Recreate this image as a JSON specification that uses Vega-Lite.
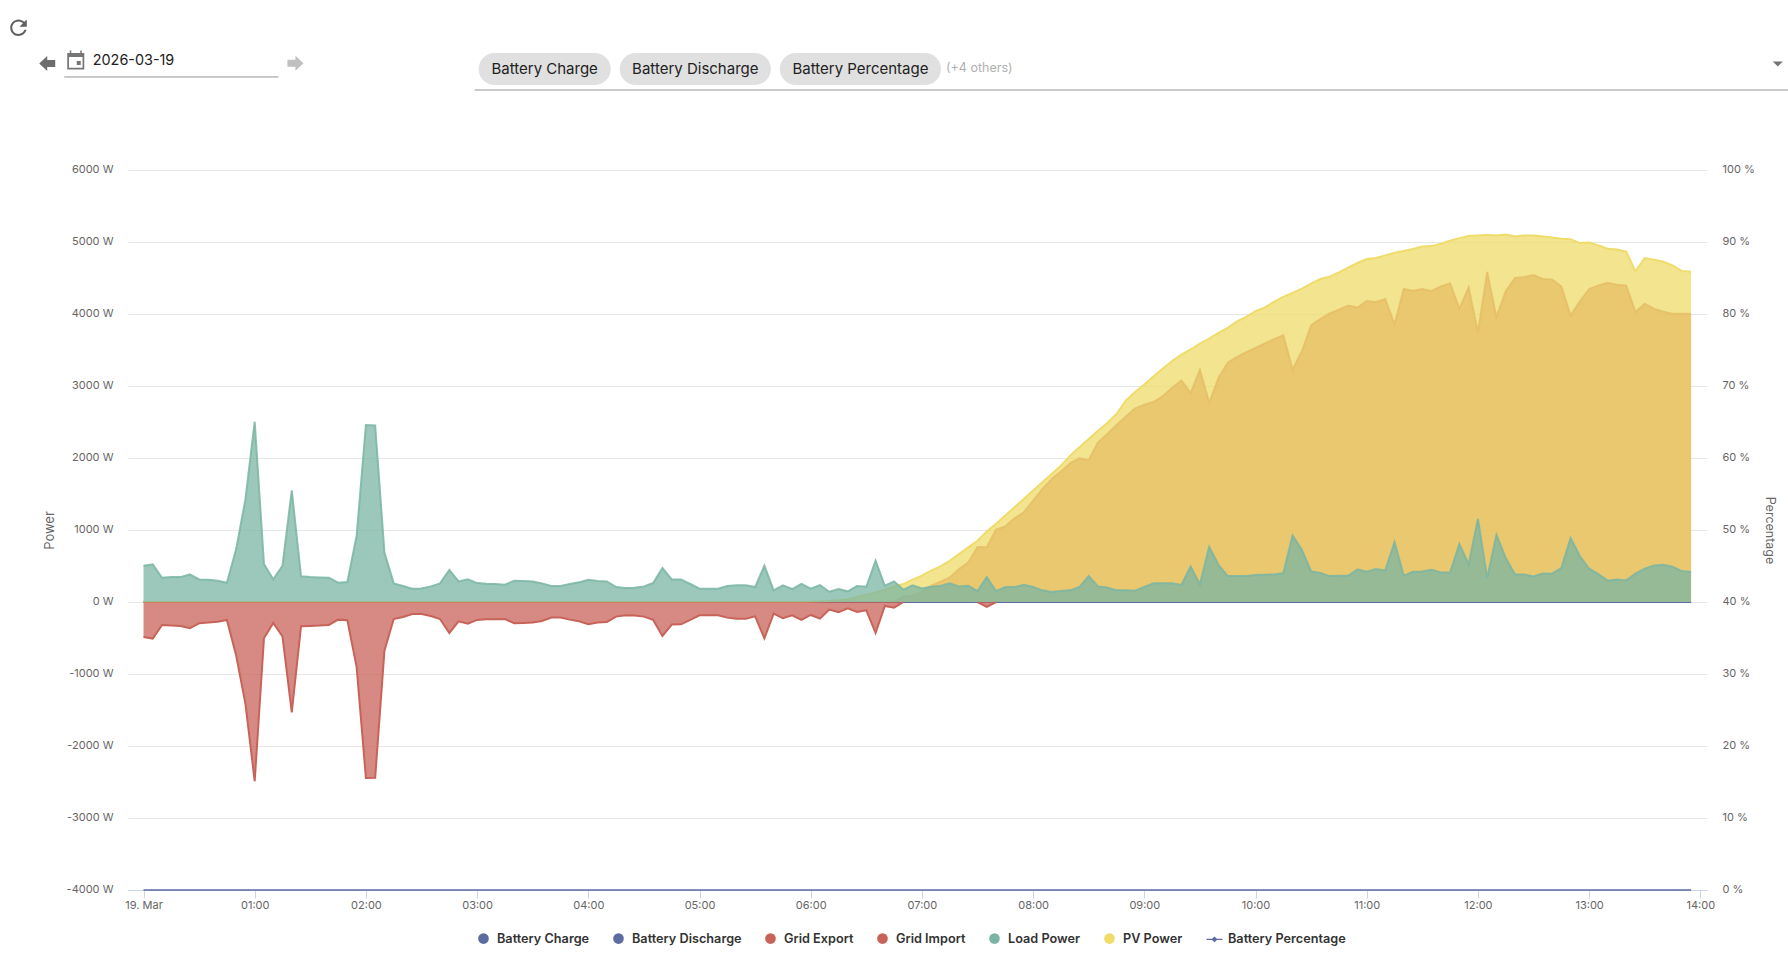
{
  "$schema": "https://vega.github.io/schema/vega-lite/v6.json",
  "width": 1579,
  "height": 720,
  "autosize": "none",
  "padding": {"left": 128, "top": 170, "right": 81, "bottom": 65},
  "background": "#ffffff",
  "data": {
    "values": [
      {"t":"2026-03-19T00:00","charge":0,"discharge":0,"export":null,"import":-485,"load":504,"pv":0,"pct":0},
      {"t":"2026-03-19T00:05","charge":0,"discharge":0,"export":null,"import":-508,"load":522,"pv":0,"pct":0},
      {"t":"2026-03-19T00:10","charge":0,"discharge":0,"export":null,"import":-319,"load":337,"pv":0,"pct":0},
      {"t":"2026-03-19T00:15","charge":0,"discharge":0,"export":null,"import":-328,"load":346,"pv":0,"pct":0},
      {"t":"2026-03-19T00:20","charge":0,"discharge":0,"export":null,"import":-333,"load":346,"pv":0,"pct":0},
      {"t":"2026-03-19T00:25","charge":0,"discharge":0,"export":null,"import":-365,"load":383,"pv":0,"pct":0},
      {"t":"2026-03-19T00:30","charge":0,"discharge":0,"export":null,"import":-296,"load":314,"pv":0,"pct":0},
      {"t":"2026-03-19T00:35","charge":0,"discharge":0,"export":null,"import":-286,"load":310,"pv":0,"pct":0},
      {"t":"2026-03-19T00:40","charge":0,"discharge":0,"export":null,"import":-273,"load":296,"pv":0,"pct":0},
      {"t":"2026-03-19T00:45","charge":0,"discharge":0,"export":null,"import":-249,"load":268,"pv":0,"pct":0},
      {"t":"2026-03-19T00:50","charge":0,"discharge":0,"export":null,"import":-744,"load":735,"pv":0,"pct":0},
      {"t":"2026-03-19T00:55","charge":0,"discharge":0,"export":null,"import":-1414,"load":1428,"pv":0,"pct":0},
      {"t":"2026-03-19T01:00","charge":0,"discharge":0,"export":null,"import":-2490,"load":2504,"pv":0,"pct":0},
      {"t":"2026-03-19T01:05","charge":0,"discharge":0,"export":null,"import":-504,"load":527,"pv":0,"pct":0},
      {"t":"2026-03-19T01:10","charge":0,"discharge":0,"export":null,"import":-291,"load":314,"pv":0,"pct":0},
      {"t":"2026-03-19T01:15","charge":0,"discharge":0,"export":null,"import":-480,"load":504,"pv":0,"pct":0},
      {"t":"2026-03-19T01:20","charge":0,"discharge":0,"export":null,"import":-1534,"load":1552,"pv":0,"pct":0},
      {"t":"2026-03-19T01:25","charge":0,"discharge":0,"export":null,"import":-337,"load":356,"pv":0,"pct":0},
      {"t":"2026-03-19T01:30","charge":0,"discharge":0,"export":null,"import":-333,"load":346,"pv":0,"pct":0},
      {"t":"2026-03-19T01:35","charge":0,"discharge":0,"export":null,"import":-328,"load":342,"pv":0,"pct":0},
      {"t":"2026-03-19T01:40","charge":0,"discharge":0,"export":null,"import":-319,"load":337,"pv":0,"pct":0},
      {"t":"2026-03-19T01:45","charge":0,"discharge":0,"export":null,"import":-245,"load":268,"pv":0,"pct":0},
      {"t":"2026-03-19T01:50","charge":0,"discharge":0,"export":null,"import":-254,"load":277,"pv":0,"pct":0},
      {"t":"2026-03-19T01:55","charge":0,"discharge":0,"export":null,"import":-905,"load":920,"pv":0,"pct":0},
      {"t":"2026-03-19T02:00","charge":0,"discharge":0,"export":null,"import":-2444,"load":2458,"pv":0,"pct":0},
      {"t":"2026-03-19T02:05","charge":0,"discharge":0,"export":null,"import":-2440,"load":2453,"pv":0,"pct":0},
      {"t":"2026-03-19T02:10","charge":0,"discharge":0,"export":null,"import":-675,"load":688,"pv":0,"pct":0},
      {"t":"2026-03-19T02:15","charge":0,"discharge":0,"export":null,"import":-236,"load":259,"pv":0,"pct":0},
      {"t":"2026-03-19T02:20","charge":0,"discharge":0,"export":null,"import":-208,"load":222,"pv":0,"pct":0},
      {"t":"2026-03-19T02:25","charge":0,"discharge":0,"export":null,"import":-166,"load":185,"pv":0,"pct":0},
      {"t":"2026-03-19T02:30","charge":0,"discharge":0,"export":null,"import":-166,"load":189,"pv":0,"pct":0},
      {"t":"2026-03-19T02:35","charge":0,"discharge":0,"export":null,"import":-194,"load":217,"pv":0,"pct":0},
      {"t":"2026-03-19T02:40","charge":0,"discharge":0,"export":null,"import":-236,"load":259,"pv":0,"pct":0},
      {"t":"2026-03-19T02:45","charge":0,"discharge":0,"export":null,"import":-430,"load":444,"pv":0,"pct":0},
      {"t":"2026-03-19T02:50","charge":0,"discharge":0,"export":null,"import":-268,"load":286,"pv":0,"pct":0},
      {"t":"2026-03-19T02:55","charge":0,"discharge":0,"export":null,"import":-300,"load":314,"pv":0,"pct":0},
      {"t":"2026-03-19T03:00","charge":0,"discharge":0,"export":null,"import":-249,"load":263,"pv":0,"pct":0},
      {"t":"2026-03-19T03:05","charge":0,"discharge":0,"export":null,"import":-240,"load":254,"pv":0,"pct":0},
      {"t":"2026-03-19T03:10","charge":0,"discharge":0,"export":null,"import":-238,"load":250,"pv":0,"pct":0},
      {"t":"2026-03-19T03:15","charge":0,"discharge":0,"export":null,"import":-236,"load":240,"pv":0,"pct":0},
      {"t":"2026-03-19T03:20","charge":0,"discharge":0,"export":null,"import":-296,"load":296,"pv":0,"pct":0},
      {"t":"2026-03-19T03:25","charge":0,"discharge":0,"export":null,"import":-291,"load":291,"pv":0,"pct":0},
      {"t":"2026-03-19T03:30","charge":0,"discharge":0,"export":null,"import":-286,"load":286,"pv":0,"pct":0},
      {"t":"2026-03-19T03:35","charge":0,"discharge":0,"export":null,"import":-263,"load":259,"pv":0,"pct":0},
      {"t":"2026-03-19T03:40","charge":0,"discharge":0,"export":null,"import":-217,"load":222,"pv":0,"pct":0},
      {"t":"2026-03-19T03:45","charge":0,"discharge":0,"export":null,"import":-217,"load":222,"pv":0,"pct":0},
      {"t":"2026-03-19T03:50","charge":0,"discharge":0,"export":null,"import":-245,"load":250,"pv":0,"pct":0},
      {"t":"2026-03-19T03:55","charge":0,"discharge":0,"export":null,"import":-268,"load":273,"pv":0,"pct":0},
      {"t":"2026-03-19T04:00","charge":0,"discharge":0,"export":null,"import":-310,"load":310,"pv":0,"pct":0},
      {"t":"2026-03-19T04:05","charge":0,"discharge":0,"export":null,"import":-286,"load":291,"pv":0,"pct":0},
      {"t":"2026-03-19T04:10","charge":0,"discharge":0,"export":null,"import":-277,"load":286,"pv":0,"pct":0},
      {"t":"2026-03-19T04:15","charge":0,"discharge":0,"export":null,"import":-203,"load":208,"pv":0,"pct":0},
      {"t":"2026-03-19T04:20","charge":0,"discharge":0,"export":null,"import":-185,"load":194,"pv":0,"pct":0},
      {"t":"2026-03-19T04:25","charge":0,"discharge":0,"export":null,"import":-189,"load":199,"pv":0,"pct":0},
      {"t":"2026-03-19T04:30","charge":0,"discharge":0,"export":null,"import":-203,"load":217,"pv":0,"pct":0},
      {"t":"2026-03-19T04:35","charge":0,"discharge":0,"export":null,"import":-249,"load":263,"pv":0,"pct":0},
      {"t":"2026-03-19T04:40","charge":0,"discharge":0,"export":null,"import":-471,"load":471,"pv":0,"pct":0},
      {"t":"2026-03-19T04:45","charge":0,"discharge":0,"export":null,"import":-314,"load":314,"pv":0,"pct":0},
      {"t":"2026-03-19T04:50","charge":0,"discharge":0,"export":null,"import":-310,"load":314,"pv":0,"pct":0},
      {"t":"2026-03-19T04:55","charge":0,"discharge":0,"export":null,"import":-249,"load":250,"pv":0,"pct":0},
      {"t":"2026-03-19T05:00","charge":0,"discharge":0,"export":null,"import":-185,"load":185,"pv":0,"pct":0},
      {"t":"2026-03-19T05:05","charge":0,"discharge":0,"export":null,"import":-185,"load":185,"pv":0,"pct":0},
      {"t":"2026-03-19T05:10","charge":0,"discharge":0,"export":null,"import":-185,"load":185,"pv":0,"pct":0},
      {"t":"2026-03-19T05:15","charge":0,"discharge":0,"export":null,"import":-217,"load":222,"pv":0,"pct":0},
      {"t":"2026-03-19T05:20","charge":0,"discharge":0,"export":null,"import":-231,"load":231,"pv":0,"pct":0},
      {"t":"2026-03-19T05:25","charge":0,"discharge":0,"export":null,"import":-231,"load":231,"pv":0,"pct":0},
      {"t":"2026-03-19T05:30","charge":0,"discharge":0,"export":null,"import":-199,"load":208,"pv":0,"pct":0},
      {"t":"2026-03-19T05:35","charge":0,"discharge":0,"export":null,"import":-504,"load":504,"pv":0,"pct":0},
      {"t":"2026-03-19T05:40","charge":0,"discharge":0,"export":null,"import":-162,"load":162,"pv":0,"pct":0},
      {"t":"2026-03-19T05:45","charge":0,"discharge":0,"export":null,"import":-226,"load":231,"pv":0,"pct":0},
      {"t":"2026-03-19T05:50","charge":0,"discharge":0,"export":null,"import":-185,"load":180,"pv":0,"pct":0},
      {"t":"2026-03-19T05:55","charge":0,"discharge":0,"export":null,"import":-249,"load":250,"pv":0,"pct":0},
      {"t":"2026-03-19T06:00","charge":0,"discharge":0,"export":null,"import":-180,"load":185,"pv":5,"pct":0},
      {"t":"2026-03-19T06:05","charge":0,"discharge":0,"export":null,"import":-231,"load":236,"pv":10,"pct":0},
      {"t":"2026-03-19T06:10","charge":0,"discharge":0,"export":null,"import":-106,"load":143,"pv":15,"pct":0},
      {"t":"2026-03-19T06:15","charge":0,"discharge":0,"export":null,"import":-143,"load":180,"pv":23,"pct":0},
      {"t":"2026-03-19T06:20","charge":0,"discharge":0,"export":null,"import":-88,"load":148,"pv":35,"pct":0},
      {"t":"2026-03-19T06:25","charge":0,"discharge":0,"export":null,"import":-139,"load":222,"pv":70,"pct":0},
      {"t":"2026-03-19T06:30","charge":0,"discharge":0,"export":null,"import":-115,"load":212,"pv":100,"pct":0},
      {"t":"2026-03-19T06:35","charge":0,"discharge":0,"export":null,"import":-430,"load":573,"pv":134,"pct":0},
      {"t":"2026-03-19T06:40","charge":0,"discharge":0,"export":null,"import":-55,"load":226,"pv":171,"pct":0},
      {"t":"2026-03-19T06:45","charge":0,"discharge":0,"export":0,"import":-79,"load":286,"pv":217,"pct":0},
      {"t":"2026-03-19T06:50","charge":0,"discharge":0,"export":79,"import":0,"load":171,"pv":249,"pct":0},
      {"t":"2026-03-19T06:55","charge":0,"discharge":0,"export":88,"import":null,"load":231,"pv":310,"pct":0},
      {"t":"2026-03-19T07:00","charge":0,"discharge":0,"export":143,"import":null,"load":189,"pv":365,"pct":0},
      {"t":"2026-03-19T07:05","charge":0,"discharge":0,"export":226,"import":null,"load":212,"pv":434,"pct":0},
      {"t":"2026-03-19T07:10","charge":0,"discharge":0,"export":282,"import":null,"load":222,"pv":494,"pct":0},
      {"t":"2026-03-19T07:15","charge":0,"discharge":0,"export":342,"import":null,"load":259,"pv":573,"pct":0},
      {"t":"2026-03-19T07:20","charge":0,"discharge":0,"export":457,"import":null,"load":217,"pv":665,"pct":0},
      {"t":"2026-03-19T07:25","charge":0,"discharge":0,"export":550,"import":null,"load":226,"pv":758,"pct":0},
      {"t":"2026-03-19T07:30","charge":0,"discharge":0,"export":765,"import":0,"load":152,"pv":850,"pct":0},
      {"t":"2026-03-19T07:35","charge":0,"discharge":0,"export":760,"import":-69,"load":346,"pv":979,"pct":0},
      {"t":"2026-03-19T07:40","charge":0,"discharge":0,"export":1007,"import":0,"load":152,"pv":1086,"pct":0},
      {"t":"2026-03-19T07:45","charge":0,"discharge":0,"export":1053,"import":null,"load":208,"pv":1201,"pct":0},
      {"t":"2026-03-19T07:50","charge":0,"discharge":0,"export":1164,"import":null,"load":208,"pv":1317,"pct":0},
      {"t":"2026-03-19T07:55","charge":0,"discharge":0,"export":1247,"import":null,"load":240,"pv":1432,"pct":0},
      {"t":"2026-03-19T08:00","charge":0,"discharge":0,"export":1409,"import":null,"load":208,"pv":1548,"pct":0},
      {"t":"2026-03-19T08:05","charge":0,"discharge":0,"export":1571,"import":null,"load":162,"pv":1663,"pct":0},
      {"t":"2026-03-19T08:10","charge":0,"discharge":0,"export":1709,"import":null,"load":139,"pv":1779,"pct":0},
      {"t":"2026-03-19T08:15","charge":0,"discharge":0,"export":1811,"import":null,"load":152,"pv":1894,"pct":0},
      {"t":"2026-03-19T08:20","charge":0,"discharge":0,"export":1931,"import":null,"load":162,"pv":2033,"pct":0},
      {"t":"2026-03-19T08:25","charge":0,"discharge":0,"export":1996,"import":null,"load":208,"pv":2148,"pct":0},
      {"t":"2026-03-19T08:30","charge":0,"discharge":0,"export":1973,"import":null,"load":360,"pv":2264,"pct":0},
      {"t":"2026-03-19T08:35","charge":0,"discharge":0,"export":2218,"import":null,"load":217,"pv":2379,"pct":0},
      {"t":"2026-03-19T08:40","charge":0,"discharge":0,"export":2333,"import":null,"load":203,"pv":2486,"pct":0},
      {"t":"2026-03-19T08:45","charge":0,"discharge":0,"export":2458,"import":null,"load":162,"pv":2610,"pct":0},
      {"t":"2026-03-19T08:50","charge":0,"discharge":0,"export":2578,"import":null,"load":162,"pv":2795,"pct":0},
      {"t":"2026-03-19T08:55","charge":0,"discharge":0,"export":2689,"import":null,"load":157,"pv":2915,"pct":0},
      {"t":"2026-03-19T09:00","charge":0,"discharge":0,"export":2740,"import":null,"load":208,"pv":3021,"pct":0},
      {"t":"2026-03-19T09:05","charge":0,"discharge":0,"export":2781,"import":null,"load":259,"pv":3137,"pct":0},
      {"t":"2026-03-19T09:10","charge":0,"discharge":0,"export":2860,"import":null,"load":259,"pv":3243,"pct":0},
      {"t":"2026-03-19T09:15","charge":0,"discharge":0,"export":2975,"import":null,"load":259,"pv":3345,"pct":0},
      {"t":"2026-03-19T09:20","charge":0,"discharge":0,"export":3077,"import":null,"load":236,"pv":3437,"pct":0},
      {"t":"2026-03-19T09:25","charge":0,"discharge":0,"export":2906,"import":null,"load":494,"pv":3507,"pct":0},
      {"t":"2026-03-19T09:30","charge":0,"discharge":0,"export":3229,"import":null,"load":245,"pv":3590,"pct":0},
      {"t":"2026-03-19T09:35","charge":0,"discharge":0,"export":2767,"import":null,"load":767,"pv":3659,"pct":0},
      {"t":"2026-03-19T09:40","charge":0,"discharge":0,"export":3114,"import":null,"load":517,"pv":3738,"pct":0},
      {"t":"2026-03-19T09:45","charge":0,"discharge":0,"export":3322,"import":null,"load":360,"pv":3807,"pct":0},
      {"t":"2026-03-19T09:50","charge":0,"discharge":0,"export":3405,"import":null,"load":360,"pv":3899,"pct":0},
      {"t":"2026-03-19T09:55","charge":0,"discharge":0,"export":3470,"import":null,"load":360,"pv":3959,"pct":0},
      {"t":"2026-03-19T10:00","charge":0,"discharge":0,"export":3530,"import":null,"load":374,"pv":4038,"pct":0},
      {"t":"2026-03-19T10:05","charge":0,"discharge":0,"export":3590,"import":null,"load":379,"pv":4090,"pct":0},
      {"t":"2026-03-19T10:10","charge":0,"discharge":0,"export":3650,"import":null,"load":383,"pv":4170,"pct":0},
      {"t":"2026-03-19T10:15","charge":0,"discharge":0,"export":3705,"import":null,"load":402,"pv":4237,"pct":0},
      {"t":"2026-03-19T10:20","charge":0,"discharge":0,"export":3229,"import":null,"load":924,"pv":4292,"pct":0},
      {"t":"2026-03-19T10:25","charge":0,"discharge":0,"export":3483,"import":null,"load":725,"pv":4352,"pct":0},
      {"t":"2026-03-19T10:30","charge":0,"discharge":0,"export":3844,"import":null,"load":425,"pv":4421,"pct":0},
      {"t":"2026-03-19T10:35","charge":0,"discharge":0,"export":3932,"import":null,"load":402,"pv":4486,"pct":0},
      {"t":"2026-03-19T10:40","charge":0,"discharge":0,"export":4010,"import":null,"load":360,"pv":4518,"pct":0},
      {"t":"2026-03-19T10:45","charge":0,"discharge":0,"export":4061,"import":null,"load":365,"pv":4578,"pct":0},
      {"t":"2026-03-19T10:50","charge":0,"discharge":0,"export":4116,"import":null,"load":365,"pv":4643,"pct":0},
      {"t":"2026-03-19T10:55","charge":0,"discharge":0,"export":4089,"import":null,"load":453,"pv":4708,"pct":0},
      {"t":"2026-03-19T11:00","charge":0,"discharge":0,"export":4181,"import":null,"load":420,"pv":4763,"pct":0},
      {"t":"2026-03-19T11:05","charge":0,"discharge":0,"export":4167,"import":null,"load":457,"pv":4777,"pct":0},
      {"t":"2026-03-19T11:10","charge":0,"discharge":0,"export":4209,"import":null,"load":439,"pv":4814,"pct":0},
      {"t":"2026-03-19T11:15","charge":0,"discharge":0,"export":3858,"import":null,"load":832,"pv":4851,"pct":0},
      {"t":"2026-03-19T11:20","charge":0,"discharge":0,"export":4347,"import":null,"load":365,"pv":4874,"pct":0},
      {"t":"2026-03-19T11:25","charge":0,"discharge":0,"export":4324,"import":null,"load":420,"pv":4902,"pct":0},
      {"t":"2026-03-19T11:30","charge":0,"discharge":0,"export":4347,"import":null,"load":425,"pv":4939,"pct":0},
      {"t":"2026-03-19T11:35","charge":0,"discharge":0,"export":4320,"import":null,"load":448,"pv":4943,"pct":0},
      {"t":"2026-03-19T11:40","charge":0,"discharge":0,"export":4384,"import":null,"load":411,"pv":4976,"pct":0},
      {"t":"2026-03-19T11:45","charge":0,"discharge":0,"export":4426,"import":null,"load":411,"pv":5017,"pct":0},
      {"t":"2026-03-19T11:50","charge":0,"discharge":0,"export":4075,"import":null,"load":804,"pv":5054,"pct":0},
      {"t":"2026-03-19T11:55","charge":0,"discharge":0,"export":4370,"import":null,"load":522,"pv":5082,"pct":0},
      {"t":"2026-03-19T12:00","charge":0,"discharge":0,"export":3747,"import":null,"load":1155,"pv":5091,"pct":0},
      {"t":"2026-03-19T12:05","charge":0,"discharge":0,"export":4583,"import":null,"load":333,"pv":5096,"pct":0},
      {"t":"2026-03-19T12:10","charge":0,"discharge":0,"export":3959,"import":null,"load":933,"pv":5091,"pct":0},
      {"t":"2026-03-19T12:15","charge":0,"discharge":0,"export":4315,"import":null,"load":610,"pv":5105,"pct":0},
      {"t":"2026-03-19T12:20","charge":0,"discharge":0,"export":4500,"import":null,"load":383,"pv":5077,"pct":0},
      {"t":"2026-03-19T12:25","charge":0,"discharge":0,"export":4514,"import":null,"load":383,"pv":5091,"pct":0},
      {"t":"2026-03-19T12:30","charge":0,"discharge":0,"export":4541,"import":null,"load":356,"pv":5091,"pct":0},
      {"t":"2026-03-19T12:35","charge":0,"discharge":0,"export":4486,"import":null,"load":397,"pv":5077,"pct":0},
      {"t":"2026-03-19T12:40","charge":0,"discharge":0,"export":4481,"import":null,"load":393,"pv":5063,"pct":0},
      {"t":"2026-03-19T12:45","charge":0,"discharge":0,"export":4384,"import":null,"load":471,"pv":5045,"pct":0},
      {"t":"2026-03-19T12:50","charge":0,"discharge":0,"export":3982,"import":null,"load":887,"pv":5040,"pct":0},
      {"t":"2026-03-19T12:55","charge":0,"discharge":0,"export":4176,"import":null,"load":638,"pv":4985,"pct":0},
      {"t":"2026-03-19T13:00","charge":0,"discharge":0,"export":4347,"import":null,"load":462,"pv":4994,"pct":0},
      {"t":"2026-03-19T13:05","charge":0,"discharge":0,"export":4398,"import":null,"load":388,"pv":4953,"pct":0},
      {"t":"2026-03-19T13:10","charge":0,"discharge":0,"export":4435,"import":null,"load":296,"pv":4906,"pct":0},
      {"t":"2026-03-19T13:15","charge":0,"discharge":0,"export":4407,"import":null,"load":314,"pv":4897,"pct":0},
      {"t":"2026-03-19T13:20","charge":0,"discharge":0,"export":4398,"import":null,"load":300,"pv":4865,"pct":0},
      {"t":"2026-03-19T13:25","charge":0,"discharge":0,"export":4029,"import":null,"load":393,"pv":4592,"pct":0},
      {"t":"2026-03-19T13:30","charge":0,"discharge":0,"export":4144,"import":null,"load":462,"pv":4777,"pct":0},
      {"t":"2026-03-19T13:35","charge":0,"discharge":0,"export":4075,"import":null,"load":508,"pv":4754,"pct":0},
      {"t":"2026-03-19T13:40","charge":0,"discharge":0,"export":4033,"import":null,"load":517,"pv":4726,"pct":0},
      {"t":"2026-03-19T13:45","charge":0,"discharge":0,"export":4005,"import":null,"load":490,"pv":4675,"pct":0},
      {"t":"2026-03-19T13:50","charge":0,"discharge":0,"export":4005,"import":null,"load":430,"pv":4597,"pct":0},
      {"t":"2026-03-19T13:55","charge":0,"discharge":0,"export":4005,"import":null,"load":416,"pv":4588,"pct":0}
    ]
  },
  "layer": [
    {
      "layer": [
        {
          "mark": {"type": "line", "color": "#5c6ba0", "strokeWidth": 2},
          "encoding": {
            "x": {
              "field": "t",
              "type": "temporal",
              "title": null,
              "scale": {"domain": [{"year":2026,"month":3,"date":18,"hours":23,"minutes":51,"seconds":38}, {"year":2026,"month":3,"date":19,"hours":14,"minutes":3,"seconds":36}]},
              "axis": {
                "title": null,
                "grid": false,
                "values": [
                  {"year":2026,"month":3,"date":19,"hours":0},
                  {"year":2026,"month":3,"date":19,"hours":1},
                  {"year":2026,"month":3,"date":19,"hours":2},
                  {"year":2026,"month":3,"date":19,"hours":3},
                  {"year":2026,"month":3,"date":19,"hours":4},
                  {"year":2026,"month":3,"date":19,"hours":5},
                  {"year":2026,"month":3,"date":19,"hours":6},
                  {"year":2026,"month":3,"date":19,"hours":7},
                  {"year":2026,"month":3,"date":19,"hours":8},
                  {"year":2026,"month":3,"date":19,"hours":9},
                  {"year":2026,"month":3,"date":19,"hours":10},
                  {"year":2026,"month":3,"date":19,"hours":11},
                  {"year":2026,"month":3,"date":19,"hours":12},
                  {"year":2026,"month":3,"date":19,"hours":13},
                  {"year":2026,"month":3,"date":19,"hours":14}
                ],
                "labelExpr": "hours(datum.value) == 0 ? '19. Mar' : timeFormat(datum.value, '%H:%M')",
                "labelFont": "Inter",
                "labelFontSize": 11,
                "labelColor": "#666666",
                "labelPadding": 1,
                "labelOverlap": false,
                "labelFlush": false,
                "tickColor": "#ccd6eb",
                "tickSize": 8,
                "domainColor": "#ccd6eb"
              }
            },
            "y": {
              "field": "charge",
              "type": "quantitative",
              "title": "Power",
              "scale": {"domain": [-4000, 6000], "nice": false},
              "axis": {
                "titleFont": "Inter",
                "titleFontSize": 13,
                "titleFontWeight": "normal",
                "titleColor": "#666666",
                "titlePadding": 9.5,
                "values": [-4000, -3000, -2000, -1000, 0, 1000, 2000, 3000, 4000, 5000, 6000],
                "labelExpr": "datum.value + ' W'",
                "labelFont": "Inter",
                "labelFontSize": 11,
                "labelColor": "#666666",
                "labelPadding": 15,
                "labelOffset": -0.7,
                "ticks": false,
                "domain": false,
                "grid": true,
                "gridColor": "#e6e6e6"
              }
            }
          }
        },
        {
          "mark": {"type": "line", "color": "#5c6ba0", "strokeWidth": 2},
          "encoding": {
            "x": {"field": "t", "type": "temporal", "title": null},
            "y": {"field": "discharge", "type": "quantitative", "title": "Power"}
          }
        },
        {
          "mark": {"type": "area", "color": "#c8635a", "opacity": 0.75, "line": {"color": "#c8635a", "strokeWidth": 2, "opacity": 0.8}},
          "encoding": {
            "x": {"field": "t", "type": "temporal", "title": null},
            "y": {"field": "export", "type": "quantitative", "title": "Power"}
          }
        },
        {
          "mark": {"type": "area", "color": "#efdc6a", "opacity": 0.75, "line": {"color": "#efdc6a", "strokeWidth": 2}},
          "encoding": {
            "x": {"field": "t", "type": "temporal", "title": null},
            "y": {"field": "pv", "type": "quantitative", "title": "Power"}
          }
        },
        {
          "mark": {"type": "area", "color": "#c8635a", "opacity": 0.75, "line": {"color": "#c8635a", "strokeWidth": 2}},
          "encoding": {
            "x": {"field": "t", "type": "temporal", "title": null},
            "y": {"field": "import", "type": "quantitative", "title": "Power"}
          }
        },
        {
          "mark": {"type": "area", "color": "#7ab5a3", "opacity": 0.75, "line": {"color": "#7ab5a3", "strokeWidth": 2, "opacity": 0.85}},
          "encoding": {
            "x": {"field": "t", "type": "temporal", "title": null},
            "y": {"field": "load", "type": "quantitative", "title": "Power"}
          }
        },
        {
          "data": {
            "values": [
              {"name": "Battery Charge"},
              {"name": "Battery Discharge"},
              {"name": "Grid Export"},
              {"name": "Grid Import"},
              {"name": "Load Power"},
              {"name": "PV Power"},
              {"name": "Battery Percentage"}
            ]
          },
          "mark": {"type": "point", "filled": true, "opacity": 0},
          "encoding": {
            "x": {"datum": {"year":2026,"month":3,"date":19}, "type": "temporal", "title": null},
            "y": {"datum": 0, "title": "Power"},
            "color": {
              "field": "name",
              "type": "nominal",
              "scale": {
                "domain": ["Battery Charge", "Battery Discharge", "Grid Export", "Grid Import", "Load Power", "PV Power", "Battery Percentage"],
                "range": ["#5c6ba0", "#5c6ba0", "#c8635a", "#c8635a", "#7ab5a3", "#efdc6a", "#5c6ba0"]
              },
              "legend": {
                "title": null,
                "orient": "none",
                "legendX": 349,
                "legendY": 762,
                "direction": "horizontal",
                "columns": 7,
                "columnPadding": 20,
                "symbolSize": 113,
                "symbolOpacity": 1,
                "labelOffset": 7,
                "labelFont": "Inter",
                "labelFontSize": 12.7,
                "labelFontWeight": 600,
                "labelColor": "#333333",
                "labelLimit": 0
              }
            },
            "shape": {
              "field": "name",
              "type": "nominal",
              "scale": {
                "domain": ["Battery Charge", "Battery Discharge", "Grid Export", "Grid Import", "Load Power", "PV Power", "Battery Percentage"],
                "range": ["circle", "circle", "circle", "circle", "circle", "circle", "M-1.5,-0.12H-0.45L0,-0.55L0.45,-0.12H1.5V0.12H0.45L0,0.55L-0.45,0.12H-1.5Z"]
              },
              "legend": {
                "title": null,
                "orient": "none",
                "legendX": 349,
                "legendY": 762,
                "direction": "horizontal",
                "columns": 7,
                "columnPadding": 20,
                "symbolSize": 113,
                "symbolOpacity": 1,
                "labelOffset": 7,
                "labelFont": "Inter",
                "labelFontSize": 12.7,
                "labelFontWeight": 600,
                "labelColor": "#333333",
                "labelLimit": 0
              }
            }
          }
        },
        {
          "data": {"values": [{"icon": "reload"}]},
          "mark": {"type": "point", "filled": true, "opacity": 1, "color": "#616161", "size": 4.3, "strokeWidth": 0, "shape": "M5.65 -5.65C4.2 -7.1 2.21 -8 0 -8c-4.42 0-7.99 3.58-7.99 8s3.57 8 7.99 8c3.73 0 6.84-2.55 7.73-6h-2.08c-.82 2.33-3.04 4-5.65 4-3.31 0-6-2.69-6-6s2.69-6 6-6c1.66 0 3.14.69 4.22 1.78L1 -1h7V-8l-2.35 2.35z"},
          "encoding": {
            "x": {"datum": {"year":2026,"month":3,"date":18,"hours":22,"minutes":52,"seconds":33}, "type": "temporal", "title": null},
            "y": {"datum": 7976, "title": "Power"}
          }
        },
        {
          "data": {"values": [{"icon": "previous day"}]},
          "mark": {"type": "point", "filled": true, "opacity": 1, "color": "#6d6d6d", "size": 4, "strokeWidth": 0, "shape": "M-8,0L0,-7.5V-3.5H8V3.5H0V7.5Z"},
          "encoding": {
            "x": {"datum": {"year":2026,"month":3,"date":18,"hours":23,"minutes":8,"seconds":3}, "type": "temporal", "title": null},
            "y": {"datum": 7479, "title": "Power"}
          }
        },
        {
          "data": {"values": [{"icon": "calendar"}]},
          "mark": {"type": "point", "filled": true, "opacity": 1, "color": "#757575", "size": 4, "strokeWidth": 0, "shape": "M-8.5,-7H-6V-9.5H-4.5V-7H4.5V-9.5H6V-7H8.5V9.5H-8.5ZM-6.8,-3V7.8H6.8V-3ZM1,1H5V5H1Z"},
          "encoding": {
            "x": {"datum": {"year":2026,"month":3,"date":18,"hours":23,"minutes":23,"seconds":27}, "type": "temporal", "title": null},
            "y": {"datum": 7528, "title": "Power"}
          }
        },
        {
          "data": {"values": [{"label": "2026-03-19"}]},
          "mark": {"type": "text", "align": "left", "baseline": "middle", "font": "Inter", "fontSize": 14.4, "color": "#222222"},
          "encoding": {
            "x": {"datum": {"year":2026,"month":3,"date":18,"hours":23,"minutes":32,"seconds":37}, "type": "temporal", "title": null},
            "y": {"datum": 7518, "title": "Power"},
            "text": {"field": "label"}
          }
        },
        {
          "data": {"values": [{"line": "date underline"}]},
          "mark": {"type": "rule", "color": "#949494", "strokeWidth": 1},
          "encoding": {
            "x": {"datum": {"year":2026,"month":3,"date":18,"hours":23,"minutes":17,"seconds":14}, "type": "temporal", "title": null},
            "x2": {"datum": {"year":2026,"month":3,"date":19,"hours":1,"minutes":12,"seconds":48}},
            "y": {"datum": 7292, "title": "Power"}
          }
        },
        {
          "data": {"values": [{"icon": "next day"}]},
          "mark": {"type": "point", "filled": true, "opacity": 1, "color": "#c0c0c0", "size": 4, "strokeWidth": 0, "shape": "M8,0L0,-7.5V-3.5H-8V3.5H0V7.5Z"},
          "encoding": {
            "x": {"datum": {"year":2026,"month":3,"date":19,"hours":1,"minutes":21,"seconds":59}, "type": "temporal", "title": null},
            "y": {"datum": 7482, "title": "Power"}
          }
        },
        {
          "data": {"values": [{"chip": "Battery Charge"}]},
          "mark": {"type": "rect", "color": "#e0e0e0", "cornerRadius": 16},
          "encoding": {
            "x": {"datum": {"year":2026,"month":3,"date":19,"hours":3,"minutes":0,"seconds":49}, "type": "temporal", "title": null},
            "x2": {"datum": {"year":2026,"month":3,"date":19,"hours":4,"minutes":12,"seconds":6}},
            "y": {"datum": 7625, "title": "Power"},
            "y2": {"datum": 7181}
          }
        },
        {
          "data": {"values": [{"chip": "Battery Discharge"}]},
          "mark": {"type": "rect", "color": "#e0e0e0", "cornerRadius": 16},
          "encoding": {
            "x": {"datum": {"year":2026,"month":3,"date":19,"hours":4,"minutes":16,"seconds":57}, "type": "temporal", "title": null},
            "x2": {"datum": {"year":2026,"month":3,"date":19,"hours":5,"minutes":38,"seconds":30}},
            "y": {"datum": 7625, "title": "Power"},
            "y2": {"datum": 7181}
          }
        },
        {
          "data": {"values": [{"chip": "Battery Percentage"}]},
          "mark": {"type": "rect", "color": "#e0e0e0", "cornerRadius": 16},
          "encoding": {
            "x": {"datum": {"year":2026,"month":3,"date":19,"hours":5,"minutes":43,"seconds":22}, "type": "temporal", "title": null},
            "x2": {"datum": {"year":2026,"month":3,"date":19,"hours":7,"minutes":10,"seconds":19}},
            "y": {"datum": 7625, "title": "Power"},
            "y2": {"datum": 7181}
          }
        },
        {
          "data": {"values": [{"chip": "Battery Charge"}]},
          "mark": {"type": "text", "align": "center", "baseline": "middle", "font": "Inter", "fontSize": 15, "color": "#222222"},
          "encoding": {
            "x": {"datum": {"year":2026,"month":3,"date":19,"hours":3,"minutes":36,"seconds":27}, "type": "temporal", "title": null},
            "y": {"datum": 7403, "title": "Power"},
            "text": {"field": "chip"}
          }
        },
        {
          "data": {"values": [{"chip": "Battery Discharge"}]},
          "mark": {"type": "text", "align": "center", "baseline": "middle", "font": "Inter", "fontSize": 15, "color": "#222222"},
          "encoding": {
            "x": {"datum": {"year":2026,"month":3,"date":19,"hours":4,"minutes":57,"seconds":44}, "type": "temporal", "title": null},
            "y": {"datum": 7403, "title": "Power"},
            "text": {"field": "chip"}
          }
        },
        {
          "data": {"values": [{"chip": "Battery Percentage"}]},
          "mark": {"type": "text", "align": "center", "baseline": "middle", "font": "Inter", "fontSize": 15, "color": "#222222"},
          "encoding": {
            "x": {"datum": {"year":2026,"month":3,"date":19,"hours":6,"minutes":26,"seconds":50}, "type": "temporal", "title": null},
            "y": {"datum": 7403, "title": "Power"},
            "text": {"field": "chip"}
          }
        },
        {
          "data": {"values": [{"label": "(+4 others)"}]},
          "mark": {"type": "text", "align": "left", "baseline": "middle", "font": "Inter", "fontSize": 12.5, "color": "#b0b0b0"},
          "encoding": {
            "x": {"datum": {"year":2026,"month":3,"date":19,"hours":7,"minutes":13,"seconds":1}, "type": "temporal", "title": null},
            "y": {"datum": 7417, "title": "Power"},
            "text": {"field": "label"}
          }
        },
        {
          "data": {"values": [{"line": "series underline"}]},
          "mark": {"type": "rule", "color": "#949494", "strokeWidth": 1},
          "encoding": {
            "x": {"datum": {"year":2026,"month":3,"date":19,"hours":2,"minutes":58,"seconds":39}, "type": "temporal", "title": null},
            "x2": {"datum": {"year":2026,"month":3,"date":19,"hours":14,"minutes":48,"seconds":16}},
            "y": {"datum": 7111, "title": "Power"}
          }
        },
        {
          "data": {"values": [{"icon": "dropdown"}]},
          "mark": {"type": "point", "filled": true, "opacity": 1, "color": "#757575", "size": 4, "strokeWidth": 0, "shape": "M-5,-2.5H5L0,2.5Z"},
          "encoding": {
            "x": {"datum": {"year":2026,"month":3,"date":19,"hours":14,"minutes":41,"seconds":48}, "type": "temporal", "title": null},
            "y": {"datum": 7472, "title": "Power"}
          }
        }
      ]
    },
    {
      "mark": {"type": "line", "color": "#5c6ba0", "strokeWidth": 1.5},
      "encoding": {
        "x": {"field": "t", "type": "temporal", "title": null},
        "y": {
          "field": "pct",
          "type": "quantitative",
          "scale": {"domain": [0, 100], "nice": false},
          "axis": {
            "orient": "right",
            "title": "Percentage",
            "titleFont": "Inter",
            "titleFontSize": 12.5,
            "titleFontWeight": "normal",
            "titleColor": "#666666",
            "titlePadding": 8,
            "values": [0, 10, 20, 30, 40, 50, 60, 70, 80, 90, 100],
            "labelExpr": "datum.value + ' %'",
            "labelFont": "Inter",
            "labelFontSize": 11,
            "labelColor": "#666666",
            "labelPadding": 15,
            "labelOffset": -0.7,
            "ticks": false,
            "domain": false,
            "grid": false
          }
        }
      }
    }
  ],
  "resolve": {"scale": {"y": "independent"}},
  "config": {"view": {"stroke": null}}
}
